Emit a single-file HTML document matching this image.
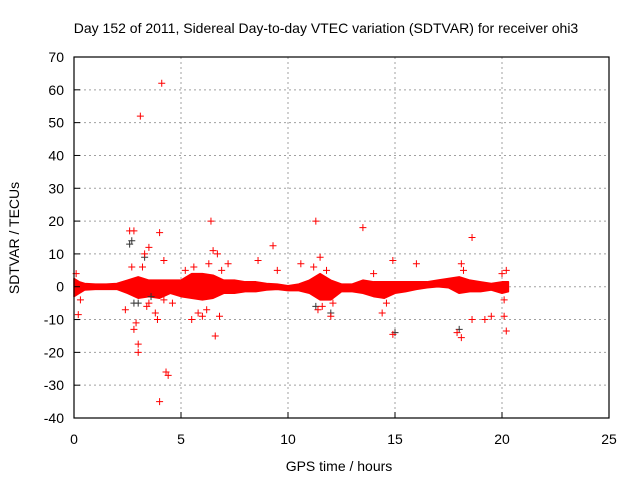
<!DOCTYPE html>
<html><head><meta charset="utf-8"><style>
body{margin:0;background:#fff;}
svg{display:block;font-family:"Liberation Sans",sans-serif;}
</style></head><body>
<svg id="chart" width="640" height="480">
<text x="326" y="33" font-size="14" text-anchor="middle">Day 152 of 2011, Sidereal Day-to-day VTEC variation (SDTVAR) for receiver ohi3</text>
<text x="339" y="471" font-size="14" text-anchor="middle">GPS time / hours</text>
<text transform="translate(19,238) rotate(-90)" font-size="14" text-anchor="middle">SDTVAR / TECUs</text>
<g id="grid"></g><g id="marks"></g><g id="axes"></g>
</svg>
<script>
const xTicks=[0,5,10,15,20,25];
const yTicks=[-40,-30,-20,-10,0,10,20,30,40,50,60,70];
const bandHours=[0,0.25,0.5,1,1.5,2,2.5,3,3.5,4,4.5,5,5.5,6,6.5,7,7.5,8,8.5,9,9.5,10,10.5,11,11.5,12,12.5,13,13.5,14,14.5,15,15.5,16,16.5,17,17.5,18,18.5,19,19.5,20,20.3];
const bandUpper=[2.5,1.5,1,0.8,0.8,1,2,3,2,2,2,2,4,4,3.5,2,2,1.5,1.5,1,0.8,0.3,0.8,2,4,2,0.8,0.8,2,1.5,1.5,1.5,1.5,1.5,1.5,2,2.5,3,2,1.5,1,1.5,1.5];
const bandLower=[-3,-2,-1,-0.8,-0.8,-0.8,-2,-3.5,-3,-3.5,-2,-3,-3.5,-4,-3.5,-2,-2,-1.5,-1.5,-1,-0.8,-1.2,-1.2,-2,-4,-4,-1.5,-1.5,-2,-3,-3.5,-2,-1.5,-0.8,-0.3,0,-0.3,-2,-1.5,-1.5,-1,-2,-1.5];
const outX=[0.2,2.4,2.6,2.8,2.8,2.9,3.0,3.1,3.0,3.3,3.5,3.5,3.8,3.9,4.0,4.0,4.1,4.2,4.3,4.4,4.2,5.5,5.8,6.0,6.4,6.6,6.7,6.5,6.8,7.2,8.6,9.3,9.5,10.6,11.3,11.5,11.4,12.0,13.5,14.4,14.9,14.9,16.0,17.9,18.1,18.1,18.6,18.6,19.2,19.5,20.0,20.1,20.2,20.2,0.1,0.3,2.7,3.2,3.4,4.6,5.2,5.6,6.2,6.3,6.9,11.2,11.6,11.8,12.1,14.0,14.6,18.2,20.1];
const outY=[-8.5,-7,17,17,-13,-11,-17.5,52,-20,10,12,-5,-8,-10,16.5,-35,62,-4,-26,-27,8,-10,-8,-9,20,-15,10,11,-9,7,8,12.5,5,7,20,9,-7,-9,18,-8,8,-14.5,7,-14,-15.5,7,15,-10,-10,-9,4,-9,5,-13.5,4,-4,6,6,-6,-5,5,6,-7,7,5,6,-6,5,-5,4,-5,5,-4];
const blkX=[2.6,2.7,2.8,3.0,3.3,3.6,11.3,12.0,15.0,18.0];
const blkY=[13,14,-5,-5,9,-3,-6,-8,-14,-13];
const L=74,R=609,T=57,B=418;
const sx=v=>L+(v-0)/25*(R-L);
const sy=v=>B-(v+40)/110*(B-T);
const NS="http://www.w3.org/2000/svg";
function mk(tag,attrs,parent){const e=document.createElementNS(NS,tag);for(const k in attrs)e.setAttribute(k,attrs[k]);parent.appendChild(e);return e;}
const grid=document.getElementById('grid'),marks=document.getElementById('marks'),axes=document.getElementById('axes');
xTicks.forEach(t=>{
 if(t>0&&t<25){const g=mk('line',{x1:sx(t),x2:sx(t),y1:T,y2:B,stroke:'#a0a0a0','stroke-dasharray':'2,3','stroke-width':1},grid);
 
 }
 const tk=mk('line',{x1:sx(t),x2:sx(t),y1:B,y2:B-6,stroke:'#000'},axes);
 
 
 const lb=mk('text',{x:sx(t),y:B+26,'font-size':14,'text-anchor':'middle'},axes);lb.textContent=t;
 
 
});
yTicks.forEach(t=>{
 if(t>-40&&t<70){const g=mk('line',{x1:L,x2:R,y1:sy(t),y2:sy(t),stroke:'#a0a0a0','stroke-dasharray':'2,3','stroke-width':1},grid);
 
 }
 const tk=mk('line',{x1:L,x2:L+6,y1:sy(t),y2:sy(t),stroke:'#000'},axes);
 
 
 const lb=mk('text',{x:L-10,y:sy(t)+5,'font-size':14,'text-anchor':'end'},axes);lb.textContent=t;
 
 
});
const fr=mk('rect',{x:L,y:T,width:R-L,height:B-T,fill:'none',stroke:'#000','stroke-width':1.2},axes);


let pts=bandHours.map((h,i)=>sx(h)+','+sy(bandUpper[i]));
for(let i=bandHours.length-1;i>=0;i--)pts.push(sx(bandHours[i])+','+sy(bandLower[i]));
const band=mk('polygon',{points:pts.join(' '),fill:'#f00',stroke:'#f00','stroke-width':1.5,'stroke-linejoin':'round'},marks);


function plus(x,y,c,name){const p=mk('path',{d:`M${x-3.5},${y}h7M${x},${y-3.5}v7`,stroke:c,'stroke-width':1,fill:'none'},marks);
 
 }
blkX.forEach((h,i)=>plus(sx(h),sy(blkY[i]),'#333','sdtvar-point-black'));
outX.forEach((h,i)=>plus(sx(h),sy(outY[i]),'#f00','sdtvar-point'));
</script>
</body></html>
